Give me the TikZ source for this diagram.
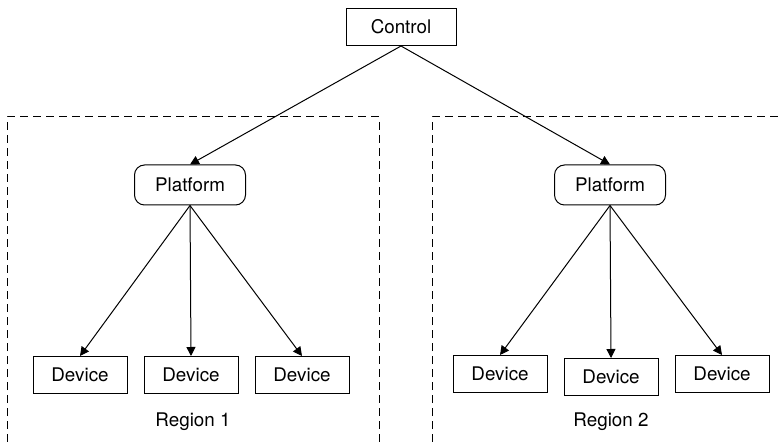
\documentclass[tikz,border=0pt]{standalone}
\usepackage{fontspec}
\setmainfont{TeX Gyre Heros}
\usetikzlibrary{arrows.meta}

\begin{document}
\begin{tikzpicture}[
    x=0.5pt, y=-0.5pt,
    line width=0.5pt,
    every node/.style={font=\fontsize{9.4}{11}\selectfont, inner sep=0pt},
    box/.style={draw, minimum width=47pt, minimum height=18.5pt}, % device box
    ctrlbox/.style={draw, minimum width=55pt, minimum height=18.5pt},
    platbox/.style={draw, rounded corners=5pt, minimum width=55.5pt, minimum height=20pt},
    region/.style={dashed, dash pattern=on 4pt off 2.5pt},
    arr/.style={-{Triangle[length=4.5pt,width=4.5pt]}}
]
    \useasboundingbox (0,0) rectangle (779,442);

    % --- REGIONS (open at the bottom) ---
    \draw[region] (7,442) -- (7,117) -- (379,117) -- (379,442);
    \draw[region] (432,442) -- (432,117) -- (779,117);

    % Top node
    \node[ctrlbox] (ctrl) at (401,27) {Control};

    % Platforms
    \node[platbox] (plat1) at (190,185) {Platform};
    \node[platbox] (plat2) at (610,185) {Platform};

    % Devices, region 1
    \node[box] (dev11) at (80,375)  {Device};
    \node[box] (dev12) at (191,375) {Device};
    \node[box] (dev13) at (302,375) {Device};

    % Devices, region 2
    \node[box] (dev21) at (500,374) {Device};
    \node[box] (dev22) at (611,377) {Device};
    \node[box] (dev23) at (722,374) {Device};

    % Region labels
    \node (reg1) at (193,422) {Region 1};
    \node (reg2) at (611,422) {Region 2};

    % Connectors
    \draw[arr] (ctrl.south) -- (plat1.north);
    \draw[arr] (ctrl.south) -- (plat2.north);

    \draw[arr] (plat1.south) -- (dev11.north);
    \draw[arr] (plat1.south) -- (dev12.north);
    \draw[arr] (plat1.south) -- (dev13.north);

    \draw[arr] (plat2.south) -- (dev21.north);
    \draw[arr] (plat2.south) -- (dev22.north);
    \draw[arr] (plat2.south) -- (dev23.north);

\end{tikzpicture}
\end{document}
